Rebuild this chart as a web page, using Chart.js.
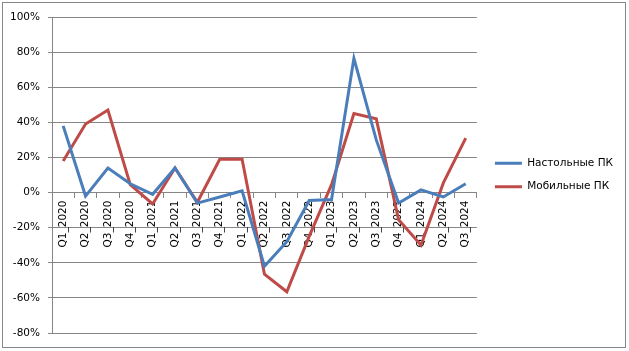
<!DOCTYPE html>
<html>
<head>
<meta charset="utf-8">
<script src="https://cdn.jsdelivr.net/npm/chart.js@4/dist/chart.umd.min.js"></script>
<style>
  html, body { margin: 0; padding: 0; background: #fff; }
  #wrap { width: 629px; height: 351px; position: relative; }
</style>
</head>
<body>
<div id="wrap"><canvas id="ctx"></canvas></div>
<script>
var quarters = ['Q1_2020', 'Q2_2020', 'Q3_2020', 'Q4_2020', 'Q1_2021', 'Q2_2021', 'Q3_2021', 'Q4_2021',
  'Q1_2022', 'Q2_2022', 'Q3_2022', 'Q4_2022', 'Q1_2023', 'Q2_2023', 'Q3_2023', 'Q4_2023',
  'Q1_2024', 'Q2_2024', 'Q3_2024'];
var desktop = [0.38, -0.02, 0.14, 0.05, -0.01, 0.14, -0.06, -0.025, 0.01, -0.42, -0.28, -0.045, -0.04,
  0.765, 0.30, -0.06, 0.015, -0.025, 0.05];
var mobile = [0.18, 0.39, 0.47, 0.045, -0.065, 0.14, -0.055, 0.19, 0.19, -0.465, -0.565, -0.25, 0.045,
  0.45, 0.42, -0.155, -0.30, 0.055, 0.31];
var seriesNames = ['Настольные ПК', 'Мобильные ПК'];
var yTicks = [-0.8, -0.6, -0.4, -0.2, 0, 0.2, 0.4, 0.6, 0.8, 1.0];

var gridGray = '#868686';
var fontFamily = '"DejaVu Sans", sans-serif';

// outer frame like the Excel chart border
var frame = {
  id: 'frame',
  afterLayout: function (chart) {
    // nudge legend a bit to the right, Excel puts it closer to the frame
    chart.legend.left += 5;
    chart.legend.right += 5;
  },
  afterDraw: function (chart) {
    var c = chart.ctx;
    c.save();
    c.strokeStyle = gridGray;
    c.lineWidth = 1;
    c.strokeRect(2.5, 2.5, 623, 345);
    c.restore();
  }
};

new Chart(document.getElementById('ctx'), {
  type: 'line',
  data: {
    labels: quarters,
    datasets: [
      {
        label: seriesNames[0],
        data: desktop,
        borderColor: '#4A7EBB',
        backgroundColor: '#4A7EBB',
        borderWidth: 3,
        pointRadius: 0,
        pointStyle: 'line',
        tension: 0
      },
      {
        label: seriesNames[1],
        data: mobile,
        borderColor: '#BE4B48',
        backgroundColor: '#BE4B48',
        borderWidth: 3,
        pointRadius: 0,
        pointStyle: 'line',
        tension: 0
      }
    ]
  },
  options: {
    responsive: true,
    maintainAspectRatio: false,
    animation: false,
    events: [],
    layout: { padding: { top: 17, left: 0, right: 11, bottom: 18 } },
    plugins: {
      tooltip: { enabled: false },
      legend: {
        position: 'right',
        align: 'center',
        labels: {
          usePointStyle: true,
          pointStyle: 'line',
          pointStyleWidth: 27,
          padding: 13,
          color: '#000',
          font: { family: fontFamily, size: 10.5 }
        }
      }
    },
    scales: {
      x: {
        position: { y: 0 },
        offset: true,
        grid: { drawOnChartArea: false, drawTicks: true, tickLength: 5, offset: true, color: gridGray },
        border: { color: gridGray, width: 1 },
        ticks: {
          autoSkip: false,
          minRotation: 90,
          maxRotation: 90,
          padding: 3,
          color: '#000',
          font: { family: fontFamily, size: 10.5 }
        }
      },
      y: {
        min: -0.8,
        max: 1.0,
        afterFit: function (scale) { scale.width = 52; },
        afterBuildTicks: function (scale) {
          scale.ticks = yTicks.map(function (v) { return { value: v }; });
        },
        grid: { color: gridGray, tickLength: 4, drawTicks: true },
        border: { color: gridGray, width: 1 },
        ticks: {
          padding: 8,
          color: '#000',
          font: { family: fontFamily, size: 10.5 },
          callback: function (v) { return Math.round(v * 100) + '%'; }
        }
      }
    }
  },
  plugins: [frame]
});
</script>
</body>
</html>
